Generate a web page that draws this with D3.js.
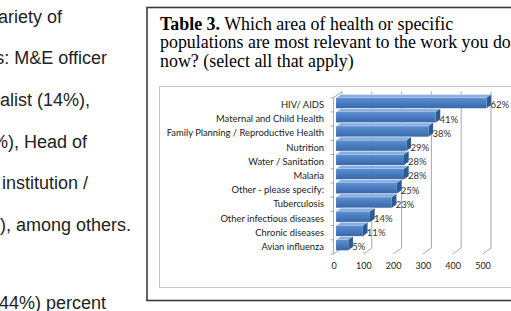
<!DOCTYPE html>
<html>
<head>
<meta charset="utf-8">
<script src="https://cdn.jsdelivr.net/npm/d3@7"></script>
<style>
  html, body { margin: 0; padding: 0; background: #fff; overflow: hidden; }
</style>
</head>
<body>
<script>
// chart values
const categories = ["HIV/ AIDS", "Maternal and Child Health", "Family Planning / Reproductive Health",
  "Nutrition", "Water / Sanitation", "Malaria", "Other - please specify:", "Tuberculosis",
  "Other infectious diseases", "Chronic diseases", "Avian influenza"];
const counts = [505, 334, 310, 236, 228, 228, 204, 187, 114, 90, 41];
const pctLabels = ["62%", "41%", "38%", "29%", "28%", "28%", "25%", "23%", "14%", "11%", "5%"];
const xTicks = [0, 100, 200, 300, 400, 500];

const titleLines = [
  [{t: "Table 3.", b: true}, {t: " Which area of health or specific"}],
  [{t: "populations are most relevant to the work you do"}],
  [{t: "now? (select all that apply)"}]
];
const bodyLines = ["a variety of", "positions: M&E officer", "specialist (14%),", "(10%), Head of",
  "an institution /", "(9%), among others.", "(44%) percent"];

const W = 511, H = 311;
const svg = d3.select("body").append("svg")
  .attr("width", W).attr("height", H);

svg.append("rect").attr("width", W).attr("height", H).attr("fill", "#fff");

// text on the left, cut off by the page edge
const bodyY = [23, 64, 106, 148, 189, 231, 309];
const bodyEnd = [62, 107, 90, 87, 88, 131, 106];
svg.append("g").selectAll("text")
  .data(bodyLines).enter().append("text")
  .attr("x", (d, i) => bodyEnd[i])
  .attr("y", (d, i) => bodyY[i])
  .attr("text-anchor", "end")
  .attr("font-family", "Liberation Sans, Arial, sans-serif")
  .attr("font-size", 18)
  .attr("fill", "#222")
  .text(d => d);

// outer frame
svg.append("rect")
  .attr("x", 147).attr("y", 7.5)
  .attr("width", 380).attr("height", 293)
  .attr("fill", "none").attr("stroke", "#3a3a3a").attr("stroke-width", 1.6);

// title
const title = svg.append("g")
  .attr("font-family", "Liberation Serif, Times New Roman, serif")
  .attr("font-size", 17.9).attr("fill", "#000");
titleLines.forEach((line, i) => {
  const t = title.append("text").attr("x", 160).attr("y", 29.5 + i * 18.7);
  line.forEach(s => t.append("tspan").attr("font-weight", s.b ? "bold" : null).text(s.t));
});

// inner chart frame
svg.append("rect")
  .attr("x", 159.5).attr("y", 86.5)
  .attr("width", 360).attr("height", 201)
  .attr("fill", "#fff").attr("stroke", "#c4c4c4").attr("stroke-width", 1);

// 3d bar chart
const DX = 8.5, DY = -6;
const x = d3.scaleLinear().domain([0, 500]).range([333.5, 482.5]);
const y = d3.scaleBand().domain(categories).range([97.7, 254]).padding(0);

const yTop = y.range()[0], yBot = y.range()[1];
const grid = svg.append("g").attr("fill", "none").attr("stroke", "#a8a8a8").attr("stroke-width", 1);

// side wall
grid.append("path")
  .attr("d", `M${x(0)},${yBot}L${x(0)},${yTop}L${x(0) + DX},${yTop + DY}L${x(0) + DX},${yBot + DY}L${x(0)},${yBot}`);
// value gridlines on the back wall, folding down to the floor
grid.selectAll("path.g").data(xTicks.slice(1)).enter().append("path")
  .attr("class", "g")
  .attr("d", v => `M${x(v) + DX},${yTop + DY}L${x(v) + DX},${yBot + DY}L${x(v)},${yBot}`);
// category ticks
grid.selectAll("line").data(categories.concat([null])).enter().append("line")
  .attr("x1", x(0) - 3).attr("x2", x(0))
  .attr("y1", (d, i) => yTop + i * y.step())
  .attr("y2", (d, i) => yTop + i * y.step());

// gradient for the bar fronts
const defs = svg.append("defs");
const grad = defs.append("linearGradient").attr("id", "front")
  .attr("x1", 0).attr("y1", 0).attr("x2", 0).attr("y2", 1);
grad.append("stop").attr("offset", "0%").attr("stop-color", "#5f90cf");
grad.append("stop").attr("offset", "45%").attr("stop-color", "#4a7dc0");
grad.append("stop").attr("offset", "100%").attr("stop-color", "#3868a8");

const f0 = 0.3, f1 = 0.85, barH = 10.5;
const bars = svg.append("g").selectAll("g")
  .data(categories.map((c, i) => ({c, v: counts[i], p: pctLabels[i]})))
  .enter().append("g");

bars.each(function (d) {
  const g = d3.select(this);
  const yc = y(d.c) + y.bandwidth() / 2;
  const x0 = x(0) + f0 * DX, x1 = x(d.v) + f0 * DX;
  const y0 = yc - barH / 2 + f0 * DY, y1 = yc + barH / 2 + f0 * DY;
  const ox = (f1 - f0) * DX, oy = (f1 - f0) * DY;
  // top
  g.append("path")
    .attr("d", `M${x0},${y0}L${x1},${y0}L${x1 + ox},${y0 + oy}L${x0 + ox},${y0 + oy}Z`)
    .attr("fill", "#86aee0").attr("stroke", "#fff").attr("stroke-width", 0.4);
  // end
  g.append("path")
    .attr("d", `M${x1},${y0}L${x1 + ox},${y0 + oy}L${x1 + ox},${y1 + oy}L${x1},${y1}Z`)
    .attr("fill", "#2e5a94");
  // front
  g.append("rect")
    .attr("x", x0).attr("y", y0)
    .attr("width", x1 - x0).attr("height", y1 - y0)
    .attr("fill", "url(#front)");
  // percent label
  g.append("text")
    .attr("x", x1 + 4).attr("y", yc + 3.5)
    .attr("font-family", "Lato, sans-serif").attr("font-size", 9.5)
    .attr("fill", "#333")
    .text(d.p);
});

// category labels
svg.append("g").selectAll("text")
  .data(categories).enter().append("text")
  .attr("x", 324)
  .attr("y", d => y(d) + y.bandwidth() / 2 + 3.2)
  .attr("text-anchor", "end")
  .attr("font-family", "Lato, sans-serif").attr("font-size", 9.4)
  .attr("fill", "#222")
  .text(d => d);

// value axis labels
const axis = svg.append("g")
  .attr("transform", `translate(0,${263})`)
  .call(d3.axisBottom(x).tickValues(xTicks).tickSize(0).tickPadding(0));
axis.select(".domain").remove();
axis.selectAll("text")
  .attr("font-family", "Lato, sans-serif").attr("font-size", 9)
  .attr("fill", "#222");
</script>
</body>
</html>
